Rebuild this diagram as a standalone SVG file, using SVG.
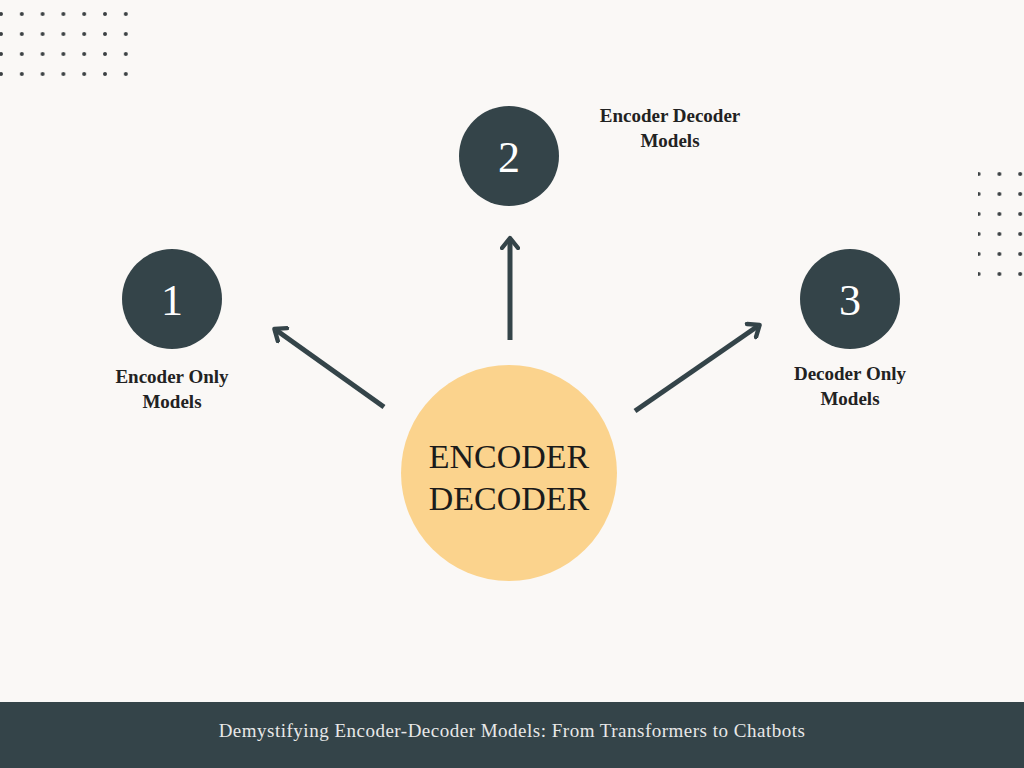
<svg xmlns="http://www.w3.org/2000/svg" width="1024" height="768" viewBox="0 0 1024 768">
<defs>
<pattern id="dots" x="1" y="14" width="20.8" height="20" patternUnits="userSpaceOnUse"><circle cx="0" cy="0" r="2" fill="#3a3f42"/><circle cx="20.8" cy="0" r="2" fill="#3a3f42"/><circle cx="0" cy="20" r="2" fill="#3a3f42"/><circle cx="20.8" cy="20" r="2" fill="#3a3f42"/></pattern>
<marker id="ah" viewBox="0 0 10 10" refX="5" refY="5" markerWidth="4" markerHeight="4" orient="auto"><path d="M1,1 L6,5 L1,9" fill="none" stroke="#344449" stroke-width="2.2" stroke-linecap="round" stroke-linejoin="round"/></marker>
<style>
.num{font-family:"Liberation Serif",serif;font-size:44px;fill:#fff;text-anchor:middle}
.lbl{font-family:"Liberation Serif",serif;font-size:19px;fill:#222;text-anchor:middle;font-weight:bold}
.arr{stroke:#344449;stroke-width:5;fill:none;marker-end:url(#ah)}
</style>
</defs>
<rect width="1024" height="768" fill="#faf8f6"/>
<g id="dots-tl" fill="#3a3f42">
<rect x="-2" y="10" width="132" height="68" fill="url(#dots)"/>
</g>
<g id="dots-r">
<rect x="978" y="171" width="50" height="110" fill="url(#dots)" transform="translate(0,0)"/>
</g>
<g id="connectors">
<line class="arr" x1="384" y1="407" x2="276" y2="330"/>
<line class="arr" x1="510" y1="340" x2="510" y2="240"/>
<line class="arr" x1="635" y1="411" x2="758" y2="326"/>
</g>
<g id="center"><circle cx="509" cy="473" r="108" fill="#fbd38d"/>
<text x="509" y="468" font-family="Liberation Serif,serif" font-size="34" fill="#1b1b1b" text-anchor="middle">ENCODER</text>
<text x="509" y="510" font-family="Liberation Serif,serif" font-size="34" fill="#1b1b1b" text-anchor="middle">DECODER</text></g>
<g id="n1"><circle cx="172" cy="299" r="50" fill="#344449"/><text class="num" x="172" y="315">1</text>
<text class="lbl" x="172" y="383">Encoder Only</text><text class="lbl" x="172" y="408">Models</text></g>
<g id="n2"><circle cx="509" cy="156" r="50" fill="#344449"/><text class="num" x="509" y="172">2</text>
<text class="lbl" x="670" y="122">Encoder Decoder</text><text class="lbl" x="670" y="147">Models</text></g>
<g id="n3"><circle cx="850" cy="299" r="50" fill="#344449"/><text class="num" x="850" y="315">3</text>
<text class="lbl" x="850" y="380">Decoder Only</text><text class="lbl" x="850" y="405">Models</text></g>
<g id="footer"><rect x="0" y="702" width="1024" height="66" fill="#344449"/>
<text x="512" y="737" font-family="Liberation Serif,serif" font-size="19" fill="#e8e8e8" text-anchor="middle" letter-spacing="0.5">Demystifying Encoder-Decoder Models: From Transformers to Chatbots</text></g>
</svg>
